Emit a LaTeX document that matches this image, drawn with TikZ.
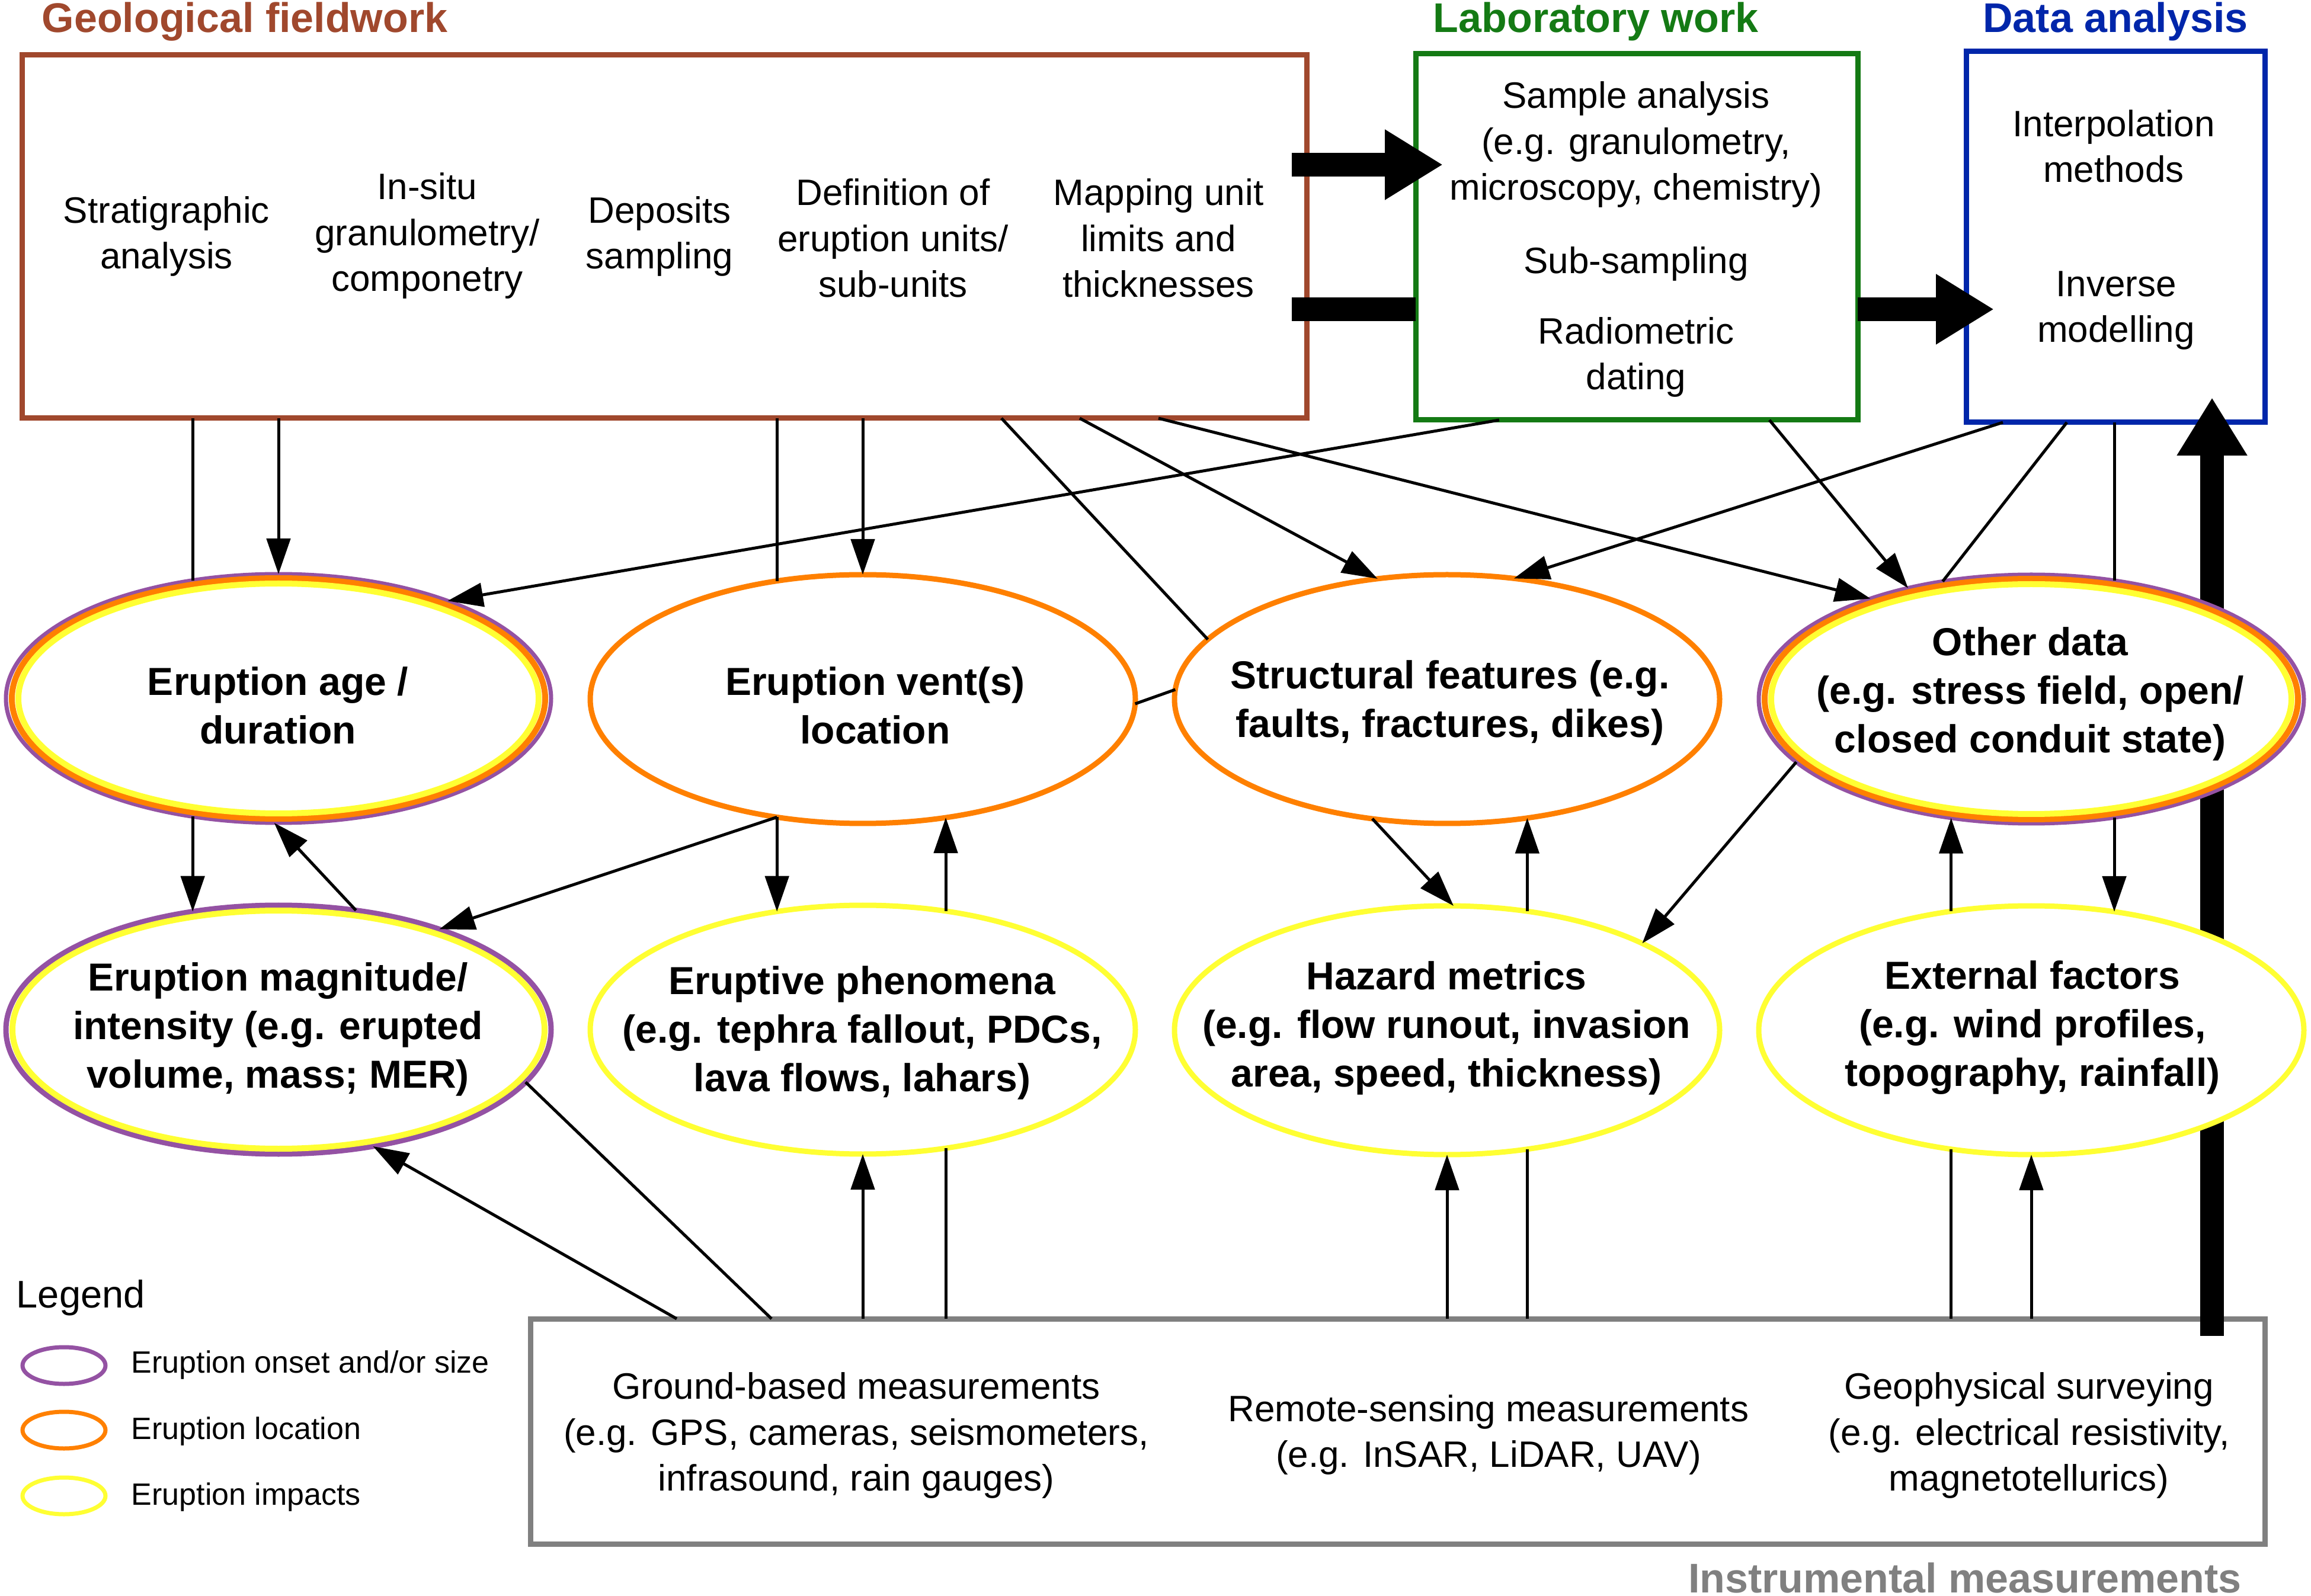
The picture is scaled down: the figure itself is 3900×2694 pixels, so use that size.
\documentclass[tikz,border=0pt]{standalone}
\usepackage{fontspec}
\setmainfont{Liberation Sans}
\usetikzlibrary{arrows.meta,calc,shapes.geometric}
\definecolor{cbrown}{RGB}{160,72,45}
\definecolor{cgreen}{RGB}{20,122,20}
\definecolor{cblue}{RGB}{0,38,170}
\definecolor{cgray}{RGB}{128,128,128}
\definecolor{cpurple}{RGB}{148,82,163}
\definecolor{corange}{RGB}{255,128,0}
\definecolor{cyellow}{RGB}{255,255,51}
\tikzset{
 box/.style={draw, line width=2.25pt, rectangle, outer sep=0pt, inner sep=0pt},
 ell/.style={ellipse, draw, fill=white, line width=2.25pt, minimum width=230pt, minimum height=105pt, inner sep=0pt, outer sep=0pt},
 legell/.style={ellipse, draw, line width=1.75pt, minimum width=35pt, minimum height=15.5pt, inner sep=0pt, outer sep=0pt},
 ring/.style={line width=2.5pt},
 conn/.style={line width=1.25pt, draw=black},
 arr/.style={conn, -{Triangle[length=15pt,width=10pt]}},
 big/.style={line width=10pt, -{Triangle[length=24.5pt,width=28pt]}},
 bar/.style={line width=10pt},
 txt/.style={font=\fontsize{15.5}{19.4}\selectfont, align=center, inner sep=0pt},
 btxt/.style={font=\bfseries\fontsize{16.5}{20.5}\selectfont, align=center, inner sep=0pt},
 ttl/.style={font=\bfseries\fontsize{17.5}{21}\selectfont, inner sep=0pt, anchor=base},
 legtxt/.style={font=\fontsize{13}{16}\selectfont, inner sep=0pt, anchor=west},
}
\begin{document}
\begin{tikzpicture}[x=0.25pt,y=-0.25pt]
\useasboundingbox (0,0) rectangle (3900,2694);
\fill[white] (0,0) rectangle (3900,2694);
% boxes
\node[box, draw=cbrown, minimum width=542pt, minimum height=153.25pt] (geo) at (1121,399.5) {};
\node[box, draw=cgreen, minimum width=186.5pt, minimum height=154.5pt] (lab) at (2762,400) {};
\node[box, draw=cblue, minimum width=126pt, minimum height=156.5pt] (data) at (3570,400) {};
\node[box, draw=cgray, minimum width=731.75pt, minimum height=95pt] (inst) at (2358.5,2416) {};
% big vertical arrow (behind ellipses)
\coordinate (bd1) at ($(inst.north east)+(-89,29)$);
\draw[big] (bd1) -- ($(data.south east)+(-89,-42)$);
% titles
\node[ttl, text=cbrown] (tgeo) at (413,55) {Geological fieldwork};
\node[ttl, text=cgreen] (tlab) at (2693,55) {Laboratory work};
\node[ttl, text=cblue] (tdata) at (3570,55) {Data analysis};
\node[ttl, text=cgray] (tinst) at (3316,2688) {Instrumental measurements};
% box texts
\node[txt] (g1) at (281,399) {Stratigraphic\\analysis};
\node[txt] (g2) at (721,398) {In-situ\\granulometry/\\componetry};
\node[txt] (g3) at (1113,399) {Deposits\\sampling};
\node[txt] (g4) at (1507,402) {Definition of\\eruption units/\\sub-units};
\node[txt] (g5) at (1955,402) {Mapping unit\\limits and\\thicknesses};
\node[txt] (l1t) at (2761,244) {Sample analysis\\(e.g. granulometry,\\microscopy, chemistry)};
\node[txt] (l2t) at (2761,445) {Sub-sampling};
\node[txt] (l3t) at (2761,603) {Radiometric\\dating};
\node[txt] (d1t) at (3567,247) {Interpolation\\methods};
\node[txt] (d2t) at (3571,524) {Inverse\\modelling};
\node[txt] (i1) at (1445,2423) {Ground-based measurements\\(e.g. GPS, cameras, seismometers,\\infrasound, rain gauges)};
\node[txt] (i2) at (2512,2422) {Remote-sensing measurements\\(e.g. InSAR, LiDAR, UAV)};
\node[txt] (i3) at (3424,2423) {Geophysical surveying\\(e.g. electrical resistivity,\\magnetotellurics)};
% ellipses
\node[ell, draw=cpurple, line width=1.75pt] (e1) at (470,1179) {};
\draw[ring, corange] (e1.center) ellipse [x radius=112.5pt, y radius=50.75pt];
\draw[ring, cyellow] (e1.center) ellipse [x radius=109.75pt, y radius=48.5pt];
\node[ell, draw=corange] (e2) at (1456,1180) {};
\node[ell, draw=corange] (e3) at (2442,1180) {};
\node[ell, draw=cpurple, line width=1.75pt] (e4) at (3428,1180) {};
\draw[ring, corange] (e4.center) ellipse [x radius=112.5pt, y radius=50.75pt];
\draw[ring, cyellow] (e4.center) ellipse [x radius=109.75pt, y radius=48.5pt];
\node[ell, draw=cpurple] (e5) at (470,1738) {};
\draw[ring, cyellow] (e5.center) ellipse [x radius=112.25pt, y radius=50.25pt];
\node[ell, draw=cyellow] (e6) at (1456,1738) {};
\node[ell, draw=cyellow] (e7) at (2442,1739) {};
\node[ell, draw=cyellow] (e8) at (3428,1739) {};
% ellipse texts
\node[btxt] (e1t) at (469,1191) {Eruption age /\\duration};
\node[btxt] (e2t) at (1477,1191) {Eruption vent(s)\\location};
\node[btxt] (e3t) at (2447,1186) {Structural features (e.g.\\faults, fractures, dikes)};
\node[btxt] (e4t) at (3426,1171) {Other data\\(e.g. stress field, open/\\closed conduit state)};
\node[btxt] (e5t) at (469,1737) {Eruption magnitude/\\intensity (e.g. erupted\\volume, mass; MER)};
\node[btxt] (e6t) at (1455,1743) {Eruptive phenomena\\(e.g. tephra fallout, PDCs,\\lava flows, lahars)};
\node[btxt] (e7t) at (2441,1735) {Hazard metrics\\(e.g. flow runout, invasion\\area, speed, thickness)};
\node[btxt] (e8t) at (3430,1735) {External factors\\(e.g. wind profiles,\\topography, rainfall)};
% legend
\node[inner sep=0pt, anchor=west, font=\fontsize{16.25}{19}\selectfont] (leg) at (27,2191) {Legend};
\node[legell, draw=cpurple] (lg1) at (108,2305) {};
\node[legell, draw=corange] (lg2) at (108,2414) {};
\node[legell, draw=cyellow] (lg3) at (108,2525) {};
\node[legtxt] (lg1t) at (221,2304) {Eruption onset and/or size};
\node[legtxt] (lg2t) at (221,2416) {Eruption location};
\node[legtxt] (lg3t) at (221,2527) {Eruption impacts};
% connectors from geological box
\draw[conn] (e1.126 |- geo.south) -- (e1.126);
\draw[arr] (e1.north |- geo.south) -- (e1.north);
\draw[conn] (e2.126 |- geo.south) -- (e2.126);
\draw[arr] (e2.north |- geo.south) -- (e2.north);
\draw[conn] ($(geo.south west)+(1653,0)$) -- (e3.166);
\draw[arr] ($(geo.south west)+(1785,0)$) -- (e3.120);
\draw[arr] ($(geo.south west)+(1918,0)$) -- (e4.148);
% from lab
\draw[arr] ($(lab.south west)+(141,0)$) -- (e1.30);
\draw[arr] ($(lab.south west)+(597,0)$) -- (e4.138);
% from data
\draw[arr] ($(data.south west)+(62,0)$) -- (e3.61);
\draw[conn] ($(data.south west)+(170,0)$) -- (e4.127);
\draw[conn] (e4.55 |- data.south) -- (e4.55);
% between ellipses
\draw[conn] (e2.359) -- (e3.178);
\draw[arr] (e1.234) -- (e5.126);
\draw[arr] (e5.57) -- (e1.268);
\draw[arr] (e2.234) -- (e5.32);
\draw[arr] (e2.234) -- (e6.126);
\draw[arr] (e6.55) -- (e2.305);
\draw[arr] (e3.238) -- (e7.87);
\draw[arr] (e7.56) -- (e3.304);
\draw[arr] (e4.195) -- (e7.24);
\draw[arr] (e8.124) -- (e4.236);
\draw[arr] (e4.305) -- (e8.55);
% from instrumental box
\draw[arr] ($(inst.north west)+(247,0)$) -- (e5.309);
\draw[conn] ($(inst.north west)+(407,0)$) -- (e5.348);
\draw[arr] (e6.south |- inst.north) -- (e6.south);
\draw[conn] (e6.305 |- inst.north) -- (e6.305);
\draw[arr] (e7.south |- inst.north) -- (e7.south);
\draw[conn] (e7.304 |- inst.north) -- (e7.304);
\draw[conn] (e8.236 |- inst.north) -- (e8.236);
\draw[arr] (e8.south |- inst.north) -- (e8.south);
% big horizontal arrows
\coordinate (ba1) at ($(geo.north east)+(-25,185)$);
\draw[big] (ba1) -- ($(ba1 -| lab.west)+(46,0)$);
\coordinate (bb1) at ($(geo.north east)+(-25,429)$);
\draw[bar] (bb1) -- (bb1 -| lab.west);
\coordinate (bc1) at ($(lab.north east)+(0,431)$);
\draw[big] (bc1) -- ($(bc1 -| data.west)+(47,0)$);
\end{tikzpicture}
\end{document}
